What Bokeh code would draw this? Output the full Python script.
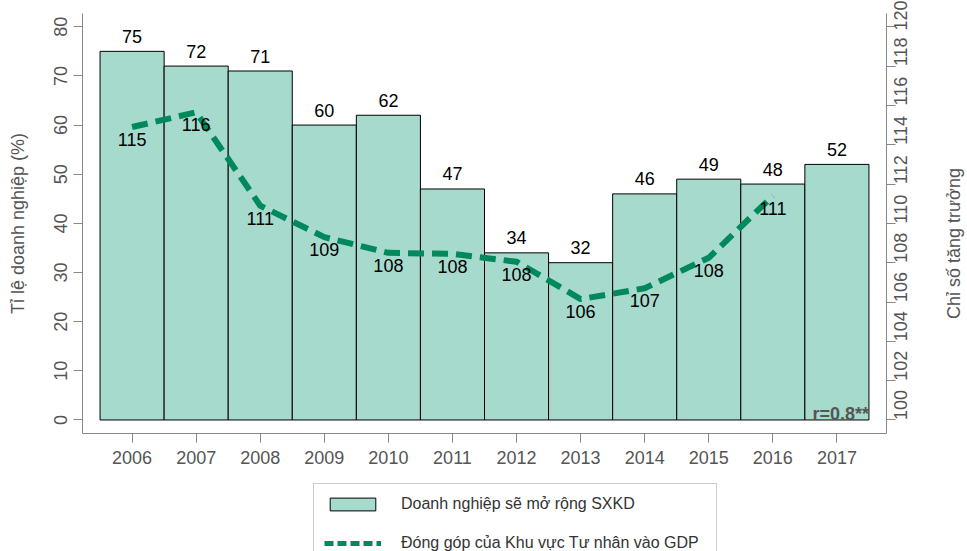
import math
from bokeh.plotting import figure
from bokeh.layouts import column, row
from bokeh.models import (Range1d, LinearAxis, FixedTicker, Label, Legend, LegendItem,
                          ColumnDataSource)
from bokeh.core.properties import value
from bokeh.embed import file_html
from bokeh.resources import INLINE

# ---- data ----
years = [2006, 2007, 2008, 2009, 2010, 2011, 2012, 2013, 2014, 2015, 2016, 2017]
expand_pct = [75, 72, 71, 60, 62, 47, 34, 32, 46, 49, 48, 52]
line_years = [2006, 2007, 2008, 2009, 2010, 2011, 2012, 2013, 2014, 2015, 2016]
growth_index = [114.9, 115.65, 110.9, 109.3, 108.5, 108.45, 108.05, 106.15, 106.7, 108.25, 111.4]
growth_labels = ["115", "116", "111", "109", "108", "108", "108", "106", "107", "108", "111"]
left_ticks = [0, 10, 20, 30, 40, 50, 60, 70, 80]
right_ticks = [100, 102, 104, 106, 108, 110, 112, 114, 116, 118, 120]
bar_name = "Doanh nghiệp sẽ mở rộng SXKD"
line_name = "Đóng góp của Khu vực Tư nhân vào GDP"
left_title = "Tỉ lệ doanh nghiệp (%)"
right_title = "Chỉ số tăng trưởng"
corr_text = "r=0.8**"

FONT = "Liberation Sans"
GREY = "#555555"
AXIS = "#888888"
BAR_FILL = "#a6dacc"
LINE_COL = "#00895c"
LINE_DASH = "16 8"

Y_RANGE = (-2.75, 82.7)
MAIN_W = 925

p = figure(width=MAIN_W, height=478, output_backend="svg", toolbar_location=None,
           title=None,
           x_range=Range1d(2005.226, 2017.774), y_range=Range1d(*Y_RANGE),
           min_border_left=82, min_border_right=39, min_border_top=13,
           min_border_bottom=45)
p.extra_y_ranges = {"right": Range1d(100 + Y_RANGE[0] / 4, 100 + Y_RANGE[1] / 4)}
p.outline_line_color = None
p.background_fill_color = "white"
p.border_fill_color = "white"
p.xgrid.visible = False
p.ygrid.visible = False

bar_src = ColumnDataSource(dict(x=years, top=expand_pct,
                                lab=[str(v) for v in expand_pct]))
bars = p.vbar(x="x", top="top", bottom=0, width=1, source=bar_src,
              fill_color=BAR_FILL, line_color="black", line_width=1)
p.text(x="x", y="top", text="lab", source=bar_src, text_align="center",
       text_baseline="middle", y_offset=-15, text_color="black",
       text_font=value(FONT), text_font_size=value("18px"))

line_src = ColumnDataSource(dict(x=line_years, y=growth_index, lab=growth_labels))
ln = p.line(x="x", y="y", source=line_src, y_range_name="right",
            line_color=LINE_COL, line_width=6, line_dash=LINE_DASH)
p.text(x="x", y="y", text="lab", source=line_src, y_range_name="right",
       text_align="center", text_baseline="middle", y_offset=12.5,
       text_color="black", text_font=value(FONT), text_font_size=value("18px"))

# axes
def style(ax):
    ax.axis_line_color = AXIS
    ax.major_tick_line_color = AXIS
    ax.minor_tick_line_color = None
    ax.major_tick_in = 0
    ax.major_tick_out = 9
    ax.major_label_text_font = FONT
    ax.major_label_text_font_size = "18px"
    ax.major_label_text_color = GREY
    ax.axis_label_text_font = FONT
    ax.axis_label_text_font_size = "18px"
    ax.axis_label_text_color = GREY
    ax.axis_label_text_font_style = "normal"

xa = p.xaxis[0]
style(xa)
xa.ticker = FixedTicker(ticks=years)
xa.major_label_standoff = 8

ya = p.yaxis[0]
style(ya)
ya.ticker = FixedTicker(ticks=left_ticks)
ya.major_label_orientation = "vertical"
ya.major_label_standoff = 6
ya.axis_label = left_title
ya.axis_label_standoff = 24

ra = LinearAxis(y_range_name="right", ticker=FixedTicker(ticks=right_ticks))
style(ra)
ra.major_label_orientation = math.pi / 2
ra.major_label_standoff = 5
p.add_layout(ra, "right")

p.add_layout(Label(x=2017.5, y=0, text=corr_text, text_align="right",
                   text_baseline="alphabetic", y_offset=6, x_offset=0,
                   text_font=FONT, text_font_size="18px", text_font_style="bold",
                   text_color=GREY))

# ---- legend panel (below) ----
q = figure(width=MAIN_W, height=73, output_backend="svg", toolbar_location=None,
           title=None, x_axis_location=None, y_axis_location=None,
           x_range=Range1d(0, 1), y_range=Range1d(0, 1),
           min_border_left=0, min_border_right=0, min_border_top=0,
           min_border_bottom=0)
q.outline_line_color = None
q.background_fill_color = "white"
q.border_fill_color = "white"
q.xgrid.visible = False
q.ygrid.visible = False
# swatch-only renderers (their single point lies outside the visible range)
lb = q.vbar(x=[-5], top=[-5], bottom=-6, width=1, fill_color=BAR_FILL,
            line_color="black", line_width=1)
ll = q.line(x=[-6, -5], y=[-6, -6], line_color=LINE_COL, line_width=5,
            line_dash="9 4")

legend = Legend(items=[LegendItem(label=bar_name, renderers=[lb]),
                       LegendItem(label=line_name, renderers=[ll])],
                location=(231, -13), orientation="vertical",
                padding=10, margin=0, spacing=19, glyph_width=57, glyph_height=16,
                label_height=20, label_width=305, label_standoff=20,
                label_text_font=FONT, label_text_font_size="16px",
                label_text_color="#333333", border_line_color="#999999",
                border_line_width=1, background_fill_color="white",
                background_fill_alpha=1.0)
q.add_layout(legend, "center")

# ---- right-hand axis title panel ----
r = figure(width=967 - MAIN_W, height=551, output_backend="svg", toolbar_location=None,
           title=None, x_axis_location=None, y_axis_location=None,
           x_range=Range1d(0, 967 - MAIN_W), y_range=Range1d(*Y_RANGE),
           min_border_left=0, min_border_right=0, min_border_top=13,
           min_border_bottom=118)
r.outline_line_color = None
r.background_fill_color = "white"
r.border_fill_color = "white"
r.xgrid.visible = False
r.ygrid.visible = False
r.text(x=[28], y=[35.9], text=[right_title], angle=math.pi / 2,
       text_align="center", text_baseline="middle", text_color=GREY,
       text_font=value(FONT), text_font_size=value("18px"))

layout = row(column(p, q, spacing=0), r, spacing=0)
open("out.html", "w").write(file_html(layout, INLINE))
